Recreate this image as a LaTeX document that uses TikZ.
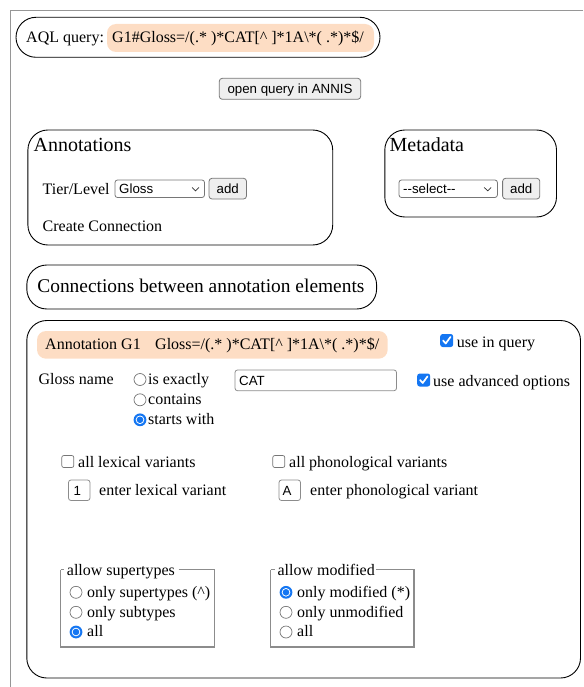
\documentclass[tikz,border=0pt]{standalone}
\usepackage{fontspec}
\setmainfont{Liberation Serif}
\newfontfamily\uisans{Liberation Sans}
\definecolor{peach}{RGB}{253,221,196}
\definecolor{framegray}{RGB}{150,150,150}
\definecolor{ctlgray}{RGB}{118,118,118}
\definecolor{fieldgray}{RGB}{140,140,140}
\definecolor{btnfill}{RGB}{239,239,239}
\definecolor{tickblue}{RGB}{20,118,242}
\tikzset{
  lbl/.style={anchor=base west, inner sep=0pt, font=\fontsize{16}{19}\selectfont},
  heading/.style={anchor=base west, inner sep=0pt, font=\fontsize{20}{24}\selectfont},
  ctltext/.style={inner sep=0pt, font=\uisans\fontsize{13.3}{16}\selectfont},
  panel/.style={draw=black, line width=0.9pt, rounded corners=20pt},
  hilite/.style={fill=peach, rounded corners=9pt},
  button/.style={draw=ctlgray, fill=btnfill, line width=0.8pt, rounded corners=3pt},
  field/.style={draw=fieldgray, fill=white, line width=0.8pt, rounded corners=2.5pt},
  groupline/.style={draw=fieldgray, line width=1.1pt},
  radiooff/.pic={\draw[ctlgray, fill=white, line width=0.7pt] (0,0) circle[radius=6pt];},
  radioon/.pic={\fill[tickblue] (0,0) circle[radius=6.4pt];
                \fill[white] (0,0) circle[radius=4.3pt];
                \fill[tickblue] (0,0) circle[radius=3.3pt];},
  boxoff/.pic={\draw[ctlgray, fill=white, line width=0.7pt, rounded corners=2pt]
                (-6pt,-6pt) rectangle (6pt,6pt);},
  boxon/.pic={\fill[tickblue, rounded corners=2.5pt] (-6.5pt,-6.5pt) rectangle (6.5pt,6.5pt);
              \draw[white, line width=1.7pt, line cap=round, line join=round]
                (-3.6pt,0pt) -- (-1pt,-3pt) -- (3.8pt,3.6pt);},
  chevron/.pic={\draw[black!80, line width=0.7pt] (-3.5pt,1.5pt) -- (0pt,-1.8pt) -- (3.5pt,1.5pt);}
}
\begin{document}
\begin{tikzpicture}[x=1pt, y=-1pt]
\useasboundingbox (0,0) rectangle (583,687);

% page frame
\draw[framegray, line width=0.9pt] (583,10.5) -- (10.5,10.5) -- (10.5,687);

% query line
\draw[panel] (16,17.3) rectangle (380,57.3);
\fill[hilite] (107,24) rectangle (374,52);
\node[lbl] (aqllabel) at (26,43) {AQL query:};
\node[lbl] (aqlquery) at (112,43) {G1\#Gloss=/(.* )*CAT[\textasciicircum{} ]*1A\textbackslash*( .*)*\$/};

% open button
\draw[button] (219.3,78.3) rectangle (360.7,99.3);
\node[ctltext, anchor=base] (openannis) at (290,93.5) {open query in ANNIS};

% annotations panel
\draw[panel] (27.9,130) rectangle (332.7,245);
\node[heading] (annhead) at (33.5,152) {Annotations};
\node[lbl] (tierlbl) at (42.5,194) {Tier/Level};
\draw[field, draw=ctlgray] (115,180) rectangle (204.5,197.5);
\node[ctltext, anchor=base west] (tiersel) at (119,193.5) {Gloss};
\pic (tierchev) at (195.5,189) {chevron};
\draw[button] (209,178.3) rectangle (246.5,199);
\node[ctltext, anchor=base] (tieradd) at (227.75,193.5) {add};
\node[lbl] (createconn) at (42.5,231) {Create Connection};

% metadata panel
\draw[panel] (384.8,130) rectangle (556.5,217);
\node[heading] (metahead) at (389.5,152) {Metadata};
\draw[field, draw=ctlgray] (399,180) rectangle (497.4,197.5);
\node[ctltext, anchor=base west] (metasel) at (403,193.5) {-{}-select-{}-};
\pic (metachev) at (487.7,189) {chevron};
\draw[button] (502.6,178.3) rectangle (539.8,199);
\node[ctltext, anchor=base] (metaadd) at (521.2,193.5) {add};

% connections heading
\draw[panel] (26.8,265) rectangle (376.6,309);
\node[heading, font=\fontsize{19.4}{23}\selectfont] (connhead) at (37.2,292) {Connections between annotation elements};

% annotation element panel
\draw[panel] (26.8,320.5) rectangle (580.5,678);
\fill[hilite] (37,331) rectangle (387.7,358.7);
\node[lbl] (annid) at (45,349.3) {Annotation G1};
\node[lbl] (annexpr) at (155,349.3) {Gloss=/(.* )*CAT[\textasciicircum{} ]*1A\textbackslash*( .*)*\$/};
\pic (useq) at (446.7,340.5) {boxon};
\node[lbl] (useqlbl) at (456.7,347) {use in query};

\node[lbl] (glossname) at (38.3,384) {Gloss name};
\pic (rexact) at (140,379.5) {radiooff};
\node[lbl] (lexact) at (148,384) {is exactly};
\pic (rcont) at (140,399.8) {radiooff};
\node[lbl] (lcont) at (148,404.3) {contains};
\pic (rstart) at (140,419.8) {radioon};
\node[lbl] (lstart) at (148,424.3) {starts with};

\draw[field] (235,370) rectangle (396.5,390.7);
\node[ctltext, anchor=base west] (catval) at (239,385) {CAT};
\pic (useadv) at (423.7,380) {boxon};
\node[lbl] (useadvlbl) at (433,386) {use advanced options};

\pic (alllex) at (67.8,461.5) {boxoff};
\node[lbl] (alllexlbl) at (78,467) {all lexical variants};
\pic (allphon) at (278.8,461.5) {boxoff};
\node[lbl] (allphonlbl) at (289,467) {all phonological variants};

\draw[field] (68.5,480) rectangle (90,500.5);
\node[ctltext, anchor=base west] (lexval) at (73.5,495) {1};
\node[lbl] (lexlbl) at (99,495) {enter lexical variant};
\draw[field] (279,480) rectangle (300.5,500.5);
\node[ctltext, anchor=base west] (phonval) at (282.5,495) {A};
\node[lbl] (phonlbl) at (310,495) {enter phonological variant};

% supertypes group
\node[lbl] (suplegend) at (66.7,575) {allow supertypes};
\draw[groupline] (60.5,569.5) -- (64.3,569.5);
\draw[groupline] (178.5,569.5) -- (214.5,569.5) |- (60.5,647) -- (60.5,569.5);
\pic (rsup) at (76,592.3) {radiooff};
\node[lbl] (lsup) at (87,597) {only supertypes (\textasciicircum)};
\pic (rsub) at (76,612.3) {radiooff};
\node[lbl] (lsub) at (87,617) {only subtypes};
\pic (rsall) at (76,632) {radioon};
\node[lbl] (lsall) at (87,636.7) {all};

% modified group
\node[lbl] (modlegend) at (277.3,575) {allow modified};
\draw[groupline] (270.7,569.5) -- (275,569.5);
\draw[groupline] (376,569.5) -- (414,569.5) |- (270.7,647) -- (270.7,569.5);
\pic (rmod) at (286,592.3) {radioon};
\node[lbl] (lmod) at (297,597) {only modified (*)};
\pic (runmod) at (286,612.3) {radiooff};
\node[lbl] (lunmod) at (297,617) {only unmodified};
\pic (rmall) at (286,632) {radiooff};
\node[lbl] (lmall) at (297,636.7) {all};
\end{tikzpicture}
\end{document}
